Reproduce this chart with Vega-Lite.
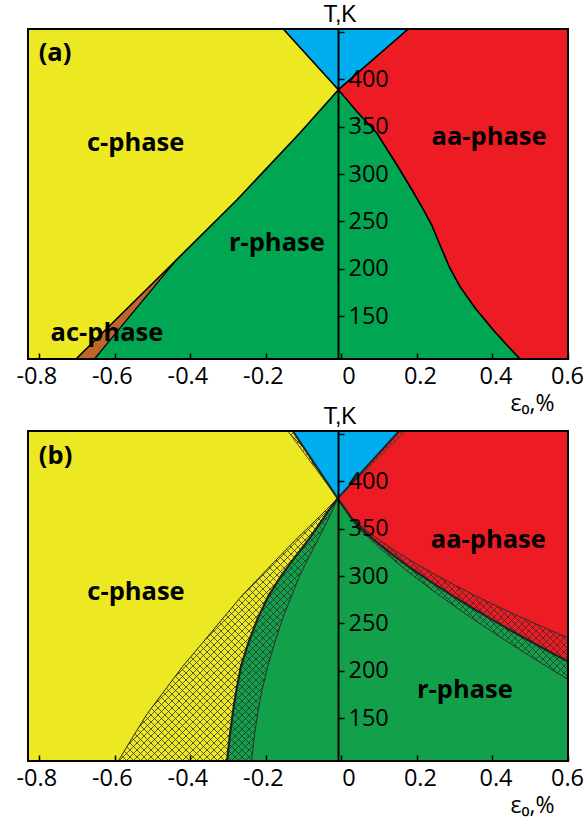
{
  "$schema": "https://vega.github.io/schema/vega-lite/v6.json",
  "padding": {"left": 16, "top": 3, "right": 0, "bottom": 4},
  "spacing": 72,
  "bounds": "flush",
  "config": {"font": "Open Sans", "view": {"stroke": null}},
  "datasets": {
    "a_yellow": [
      {"T": 105, "x": -0.703}, {"T": 206, "x": -0.446}, {"T": 272.7, "x": -0.277},
      {"T": 343.3, "x": -0.11}, {"T": 389, "x": -0.008}, {"T": 453, "x": -0.154}
    ],
    "a_brown": [
      {"T": 105, "xl": -0.703, "xr": -0.654}, {"T": 210, "xl": -0.436, "xr": -0.436}
    ],
    "a_red": [
      {"T": 105, "x": 0.473}, {"T": 119.8, "x": 0.438}, {"T": 135.6, "x": 0.402},
      {"T": 158.8, "x": 0.354}, {"T": 181.3, "x": 0.314}, {"T": 201, "x": 0.287},
      {"T": 225.2, "x": 0.261}, {"T": 246.3, "x": 0.239}, {"T": 262.1, "x": 0.218},
      {"T": 283.2, "x": 0.187}, {"T": 309.6, "x": 0.147}, {"T": 343, "x": 0.094},
      {"T": 365.5, "x": 0.042}, {"T": 389, "x": -0.008}, {"T": 453, "x": 0.177}
    ],
    "a_blue": [
      {"T": 389, "xl": -0.008, "xr": -0.008}, {"T": 453, "xl": -0.154, "xr": 0.177}
    ],
    "a_labels": [
      {"label": "(a)", "x": -0.7585, "T": 428},
      {"label": "c-phase", "x": -0.545, "T": 333},
      {"label": "aa-phase", "x": 0.391, "T": 339},
      {"label": "r-phase", "x": -0.171, "T": 227},
      {"label": "ac-phase", "x": -0.621, "T": 132}
    ],
    "b_left": [
      {"T": 105, "xo": -0.591, "xm": -0.303, "xr": -0.238},
      {"T": 130, "xo": -0.553, "xm": -0.296, "xr": -0.231},
      {"T": 155, "xo": -0.514, "xm": -0.288, "xr": -0.222},
      {"T": 180, "xo": -0.467, "xm": -0.278, "xr": -0.21},
      {"T": 205, "xo": -0.42, "xm": -0.266, "xr": -0.195},
      {"T": 230, "xo": -0.367, "xm": -0.246, "xr": -0.176},
      {"T": 255, "xo": -0.315, "xm": -0.222, "xr": -0.156},
      {"T": 280, "xo": -0.262, "xm": -0.192, "xr": -0.131},
      {"T": 300, "xo": -0.214, "xm": -0.16, "xr": -0.111},
      {"T": 320, "xo": -0.166, "xm": -0.123, "xr": -0.086},
      {"T": 340, "xo": -0.117, "xm": -0.084, "xr": -0.06},
      {"T": 355, "xo": -0.078, "xm": -0.058, "xr": -0.041},
      {"T": 370, "xo": -0.04, "xm": -0.032, "xr": -0.023},
      {"T": 382, "xo": -0.01, "xm": -0.01, "xr": -0.01}
    ],
    "b_ysolid": [
      {"T": 105, "x": -0.591}, {"T": 130, "x": -0.553}, {"T": 155, "x": -0.514},
      {"T": 180, "x": -0.467}, {"T": 205, "x": -0.42}, {"T": 230, "x": -0.367},
      {"T": 255, "x": -0.315}, {"T": 280, "x": -0.262}, {"T": 300, "x": -0.214},
      {"T": 320, "x": -0.166}, {"T": 340, "x": -0.117}, {"T": 355, "x": -0.078},
      {"T": 370, "x": -0.04}, {"T": 382, "x": -0.01}, {"T": 453, "x": -0.142}
    ],
    "b_right": [
      {"x": -0.01, "tg": 382, "tm": 382, "tt": 382, "top": 382},
      {"x": 0.03, "tg": 357.9, "tm": 359.1, "tt": 360.7, "top": 397.8},
      {"x": 0.06, "tg": 345.1, "tm": 347.3, "tt": 350.2, "top": 409.6},
      {"x": 0.1, "tg": 330.2, "tm": 333.6, "tt": 338.1, "top": 425.4},
      {"x": 0.15, "tg": 313.1, "tm": 318.1, "tt": 324.7, "top": 445.1},
      {"x": 0.17, "tg": 306.8, "tm": 312.4, "tt": 319.8, "top": 453},
      {"x": 0.2, "tg": 297.4, "tm": 303.9, "tt": 312.5, "top": 453},
      {"x": 0.25, "tg": 282.4, "tm": 290.5, "tt": 301.2, "top": 453},
      {"x": 0.3, "tg": 268.1, "tm": 277.8, "tt": 290.5, "top": 453},
      {"x": 0.35, "tg": 254.3, "tm": 265.5, "tt": 280.3, "top": 453},
      {"x": 0.4, "tg": 241, "tm": 253.8, "tt": 270.6, "top": 453},
      {"x": 0.45, "tg": 228.1, "tm": 242.4, "tt": 261.3, "top": 453},
      {"x": 0.5, "tg": 215.4, "tm": 231.3, "tt": 252.2, "top": 453},
      {"x": 0.55, "tg": 203.1, "tm": 220.5, "tt": 243.5, "top": 453},
      {"x": 0.6, "tg": 191, "tm": 210, "tt": 235, "top": 453}
    ],
    "b_blue": [
      {"T": 382, "xl2": -0.01, "xl": -0.01, "xr": -0.01, "xr2": -0.01},
      {"T": 453, "xl2": -0.142, "xl": -0.129, "xr": 0.153, "xr2": 0.17}
    ],
    "b_corner": [{"x": -0.83, "T": 453}],
    "b_labels": [
      {"label": "(b)", "x": -0.757, "T": 427},
      {"label": "c-phase", "x": -0.544, "T": 283.5},
      {"label": "aa-phase", "x": 0.389, "T": 338},
      {"label": "r-phase", "x": 0.327, "T": 180}
    ]
  },
  "vconcat": [
    {
      "width": 540, "height": 330,
      "view": {"fill": "#00A651", "stroke": null},
      "layer": [
        {
          "data": {"name": "a_yellow"},
          "mark": {"type": "area", "orient": "horizontal", "color": "#ECE822", "clip": true},
          "encoding": {
            "y": {"field": "T", "type": "quantitative", "scale": {"domain": [105, 453], "nice": false, "zero": false},
              "axis": {"orient": "right", "offset": -230, "zindex": 2, "values": [150, 200, 250, 300, 350, 400, 450],
                "title": "T,K", "titleAngle": 0, "titleX": 1.5, "titleY": -8, "titleAlign": "center", "titleBaseline": "alphabetic",
                "titleFont": "Liberation Sans", "titleFontSize": 23, "titleFontWeight": "normal", "titleColor": "black",
                "grid": false, "domain": true, "domainColor": "black", "domainWidth": 2,
                "ticks": true, "tickSize": 6, "tickWidth": 1.5, "tickColor": "black", "labelPadding": 4,
                "labelFont": "Open Sans", "labelFontSize": 23.5, "labelColor": "black", "labelAlign": "left", "labelBaseline": "middle",
                "labelFlush": false, "labelOverlap": false, "labelExpr": "datum.value == 450 ? '' : datum.label"}},
            "x": {"field": "x", "type": "quantitative", "scale": {"domain": [-0.83, 0.6], "nice": false, "zero": false},
              "axis": {"zindex": 2, "values": [-0.8, -0.6, -0.4, -0.2, 0, 0.2, 0.4, 0.6], "title": "ε₀,%",
                "titleX": 504, "titleY": 51, "titleAlign": "center", "titleBaseline": "alphabetic",
                "titleFont": "Open Sans", "titleFontSize": 23, "titleFontWeight": "normal", "titleColor": "black",
                "grid": false, "domain": false, "ticks": true, "tickSize": -6, "tickWidth": 1.5, "tickColor": "black",
                "labelPadding": 11, "labelFont": "Open Sans", "labelFontSize": 23.5, "labelColor": "black",
                "labelFlush": false, "labelOverlap": false,
                "labelOffset": {"condition": [{"test": "datum.value == 0", "value": 7}, {"test": "datum.value < 0", "value": -3}, {"test": "datum.value > 0.5", "value": -1}], "value": 3},
                "labelExpr": "datum.value == 0 ? '0' : replace(datum.label, '−', '-')"}},
            "x2": {"datum": -0.83}
          }
        },
        {
          "data": {"name": "a_brown"},
          "mark": {"type": "area", "orient": "horizontal", "color": "#C1662B", "clip": true},
          "encoding": {
            "y": {"field": "T", "type": "quantitative"},
            "x": {"field": "xl", "type": "quantitative"},
            "x2": {"field": "xr"}
          }
        },
        {
          "data": {"name": "a_red"},
          "mark": {"type": "area", "orient": "horizontal", "color": "#ED1C24", "clip": true},
          "encoding": {
            "y": {"field": "T", "type": "quantitative"},
            "x": {"field": "x", "type": "quantitative"},
            "x2": {"datum": 0.6}
          }
        },
        {
          "data": {"name": "a_blue"},
          "mark": {"type": "area", "orient": "horizontal", "color": "#00AEEF", "clip": true},
          "encoding": {
            "y": {"field": "T", "type": "quantitative"},
            "x": {"field": "xl", "type": "quantitative"},
            "x2": {"field": "xr"}
          }
        },
        {
          "data": {"name": "a_yellow"},
          "mark": {"type": "line", "color": "black", "strokeWidth": 1.6, "clip": true},
          "encoding": {
            "y": {"field": "T", "type": "quantitative"},
            "x": {"field": "x", "type": "quantitative"},
            "order": {"field": "T"}
          }
        },
        {
          "data": {"name": "a_red"},
          "mark": {"type": "line", "color": "black", "strokeWidth": 1.6, "clip": true},
          "encoding": {
            "y": {"field": "T", "type": "quantitative"},
            "x": {"field": "x", "type": "quantitative"},
            "order": {"field": "T"}
          }
        },
        {
          "data": {"name": "a_brown"},
          "mark": {"type": "line", "color": "black", "strokeWidth": 1.2, "clip": true},
          "encoding": {
            "y": {"field": "T", "type": "quantitative"},
            "x": {"field": "xr", "type": "quantitative"},
            "order": {"field": "T"}
          }
        },
        {
          "data": {"name": "a_labels"},
          "mark": {"type": "text", "font": "Open Sans", "fontWeight": "bold", "fontSize": 25.5, "color": "black", "align": "center", "baseline": "middle"},
          "encoding": {
            "y": {"field": "T", "type": "quantitative"},
            "x": {"field": "x", "type": "quantitative"},
            "text": {"field": "label"}
          }
        },
        {
          "data": {"name": "a_blue"},
          "mark": {"type": "rect", "fill": null, "fillOpacity": 0, "stroke": "black", "strokeWidth": 2},
          "encoding": {
            "x": {"datum": -0.83, "type": "quantitative"},
            "x2": {"datum": 0.6},
            "y": {"datum": 105, "type": "quantitative"},
            "y2": {"datum": 453}
          }
        }
      ]
    },
    {
      "width": 540, "height": 330,
      "view": {"fill": "#ECE822", "stroke": null},
      "layer": [
        {
          "data": {"name": "b_left"},
          "mark": {"type": "area", "orient": "horizontal", "color": "#ECE822", "clip": true},
          "encoding": {
            "y": {"field": "T", "type": "quantitative", "scale": {"domain": [105, 453], "nice": false, "zero": false},
              "axis": {"orient": "right", "offset": -230, "zindex": 2, "values": [150, 200, 250, 300, 350, 400, 450],
                "title": "T,K", "titleAngle": 0, "titleX": 1.5, "titleY": -8, "titleAlign": "center", "titleBaseline": "alphabetic",
                "titleFont": "Liberation Sans", "titleFontSize": 23, "titleFontWeight": "normal", "titleColor": "black",
                "grid": false, "domain": true, "domainColor": "black", "domainWidth": 2,
                "ticks": true, "tickSize": 6, "tickWidth": 1.5, "tickColor": "black", "labelPadding": 4,
                "labelFont": "Open Sans", "labelFontSize": 23.5, "labelColor": "black", "labelAlign": "left", "labelBaseline": "middle",
                "labelFlush": false, "labelOverlap": false, "labelExpr": "datum.value == 450 ? '' : datum.label"}},
            "x": {"field": "xo", "type": "quantitative", "scale": {"domain": [-0.83, 0.6], "nice": false, "zero": false},
              "axis": {"zindex": 2, "values": [-0.8, -0.6, -0.4, -0.2, 0, 0.2, 0.4, 0.6], "title": "ε₀,%",
                "titleX": 504, "titleY": 51, "titleAlign": "center", "titleBaseline": "alphabetic",
                "titleFont": "Open Sans", "titleFontSize": 23, "titleFontWeight": "normal", "titleColor": "black",
                "grid": false, "domain": false, "ticks": true, "tickSize": -6, "tickWidth": 1.5, "tickColor": "black",
                "labelPadding": 11, "labelFont": "Open Sans", "labelFontSize": 23.5, "labelColor": "black",
                "labelFlush": false, "labelOverlap": false,
                "labelOffset": {"condition": [{"test": "datum.value == 0", "value": 7}, {"test": "datum.value < 0", "value": -3}, {"test": "datum.value > 0.5", "value": -1}], "value": 3},
                "labelExpr": "datum.value == 0 ? '0' : replace(datum.label, '−', '-')"}},
            "x2": {"field": "xm"}
          }
        },
        {
          "data": {"name": "b_left"},
          "mark": {"type": "area", "orient": "horizontal", "color": "#12A04A", "clip": true},
          "encoding": {
            "y": {"field": "T", "type": "quantitative"},
            "x": {"field": "xm", "type": "quantitative"},
            "x2": {"field": "xr"}
          }
        },
        {
          "data": {"name": "b_right"},
          "mark": {"type": "area", "orient": "vertical", "color": "#12A04A", "clip": true},
          "encoding": {
            "x": {"field": "x", "type": "quantitative"},
            "y": {"field": "tg", "type": "quantitative"},
            "y2": {"field": "tm"}
          }
        },
        {
          "data": {"name": "b_right"},
          "mark": {"type": "area", "orient": "vertical", "color": "#ED1C24", "clip": true},
          "encoding": {
            "x": {"field": "x", "type": "quantitative"},
            "y": {"field": "tm", "type": "quantitative"},
            "y2": {"field": "tt"}
          }
        },
        {
          "data": {"name": "b_blue"},
          "mark": {"type": "area", "orient": "horizontal", "color": "#ED1C24", "clip": true},
          "encoding": {
            "y": {"field": "T", "type": "quantitative"},
            "x": {"field": "xr", "type": "quantitative"},
            "x2": {"field": "xr2"}
          }
        },
        {
          "data": {"name": "b_corner"},
          "mark": {"type": "point", "filled": false, "size": 4, "stroke": "#2b2b2b", "strokeWidth": 0.75, "opacity": 1, "clip": true,
            "shape": "M-245 0l330 330m-323 -330l330 330m-323 -330l330 330m-323 -330l330 330m-323 -330l330 330m-323 -330l330 330m-323 -330l330 330m-323 -330l330 330m-323 -330l330 330m-323 -330l330 330m-323 -330l330 330m-323 -330l330 330m-323 -330l330 330m-323 -330l330 330m-323 -330l330 330m-323 -330l330 330m-323 -330l330 330m-323 -330l330 330m-323 -330l330 330m-323 -330l330 330m-323 -330l330 330m-323 -330l330 330m-323 -330l330 330m-323 -330l330 330m-323 -330l330 330m-323 -330l330 330m-323 -330l330 330m-323 -330l330 330m-323 -330l330 330m-323 -330l330 330m-323 -330l330 330m-323 -330l330 330m-323 -330l330 330m-323 -330l330 330m-323 -330l330 330m-323 -330l330 330m-323 -330l330 330m-323 -330l330 330m-323 -330l330 330m-323 -330l330 330m-323 -330l330 330m-323 -330l330 330m-323 -330l330 330m-323 -330l330 330m-323 -330l330 330m-323 -330l330 330m-323 -330l330 330m-323 -330l330 330m-323 -330l330 330m-323 -330l330 330m-323 -330l330 330m-323 -330l330 330m-323 -330l330 330m-323 -330l330 330m-323 -330l330 330m-323 -330l330 330m-323 -330l330 330m-323 -330l330 330m-323 -330l330 330m-323 -330l330 330m-323 -330l330 330m-323 -330l330 330m-323 -330l330 330m-323 -330l330 330m-323 -330l330 330m-323 -330l330 330m-323 -330l330 330m-323 -330l330 330m-323 -330l330 330m-323 -330l330 330m-323 -330l330 330m-323 -330l330 330m-323 -330l330 330m-323 -330l330 330m-323 -330l330 330m-323 -330l330 330m-323 -330l330 330m-323 -330l330 330m-323 -330l330 330m-323 -330l330 330m-323 -330l330 330m-323 -330l330 330m-323 -330l330 330m-323 -330l330 330m-323 -330l330 330m-323 -330l330 330m-323 -330l330 330m-323 -330l330 330m-323 -330l330 330m-323 -330l330 330m-323 -330l330 330m-323 -330l330 330m-323 -330l330 330m-323 -330l330 330m-323 -330l330 330m-323 -330l330 330m-323 -330l330 330m-323 -330l330 330m-323 -330l330 330m-323 -330l330 330m-323 -330l330 330m-323 -330l330 330m-323 -330l330 330m-323 -330l330 330m-323 -330l330 330m-323 -330l330 330m-323 -330l330 330m-323 -330l330 330m-323 -330l330 330m-323 -330l330 330m-323 -330l330 330m-323 -330l330 330m-323 -330l330 330m-323 -330l330 330m-323 -330l330 330m-323 -330l330 330m-323 -330l330 330m-323 -330l330 330m-323 -330l330 330m-323 -330l330 330m-323 -330l330 330m-323 -330l330 330m-323 -330l330 330M85 0l-330 330m337 -330l-330 330m337 -330l-330 330m337 -330l-330 330m337 -330l-330 330m337 -330l-330 330m337 -330l-330 330m337 -330l-330 330m337 -330l-330 330m337 -330l-330 330m337 -330l-330 330m337 -330l-330 330m337 -330l-330 330m337 -330l-330 330m337 -330l-330 330m337 -330l-330 330m337 -330l-330 330m337 -330l-330 330m337 -330l-330 330m337 -330l-330 330m337 -330l-330 330m337 -330l-330 330m337 -330l-330 330m337 -330l-330 330m337 -330l-330 330m337 -330l-330 330m337 -330l-330 330m337 -330l-330 330m337 -330l-330 330m337 -330l-330 330m337 -330l-330 330m337 -330l-330 330m337 -330l-330 330m337 -330l-330 330m337 -330l-330 330m337 -330l-330 330m337 -330l-330 330m337 -330l-330 330m337 -330l-330 330m337 -330l-330 330m337 -330l-330 330m337 -330l-330 330m337 -330l-330 330m337 -330l-330 330m337 -330l-330 330m337 -330l-330 330m337 -330l-330 330m337 -330l-330 330m337 -330l-330 330m337 -330l-330 330m337 -330l-330 330m337 -330l-330 330m337 -330l-330 330m337 -330l-330 330m337 -330l-330 330m337 -330l-330 330m337 -330l-330 330m337 -330l-330 330m337 -330l-330 330m337 -330l-330 330m337 -330l-330 330m337 -330l-330 330m337 -330l-330 330m337 -330l-330 330m337 -330l-330 330m337 -330l-330 330m337 -330l-330 330m337 -330l-330 330m337 -330l-330 330m337 -330l-330 330m337 -330l-330 330m337 -330l-330 330m337 -330l-330 330m337 -330l-330 330m337 -330l-330 330m337 -330l-330 330m337 -330l-330 330m337 -330l-330 330m337 -330l-330 330m337 -330l-330 330m337 -330l-330 330m337 -330l-330 330m337 -330l-330 330m337 -330l-330 330m337 -330l-330 330m337 -330l-330 330m337 -330l-330 330m337 -330l-330 330m337 -330l-330 330m337 -330l-330 330m337 -330l-330 330m337 -330l-330 330m337 -330l-330 330m337 -330l-330 330m337 -330l-330 330m337 -330l-330 330m337 -330l-330 330m337 -330l-330 330m337 -330l-330 330m337 -330l-330 330m337 -330l-330 330m337 -330l-330 330m337 -330l-330 330m337 -330l-330 330m337 -330l-330 330m337 -330l-330 330m337 -330l-330 330m337 -330l-330 330m337 -330l-330 330m337 -330l-330 330m337 -330l-330 330m337 -330l-330 330m337 -330l-330 330m337 -330l-330 330m337 -330l-330 330m337 -330l-330 330m337 -330l-330 330m337 -330l-330 330m337 -330l-330 330m337 -330l-330 330m337 -330l-330 330m337 -330l-330 330m337 -330l-330 330m337 -330l-330 330m337 -330l-330 330m337 -330l-330 330m337 -330l-330 330m337 -330l-330 330m337 -330l-330 330m337 -330l-330 330m337 -330l-330 330m337 -330l-330 330m337 -330l-330 330m337 -330l-330 330m337 -330l-330 330m337 -330l-330 330"},
          "encoding": {
            "x": {"field": "x", "type": "quantitative"},
            "y": {"field": "T", "type": "quantitative"}
          }
        },
        {
          "data": {"name": "b_ysolid"},
          "mark": {"type": "area", "orient": "horizontal", "color": "#ECE822", "clip": true},
          "encoding": {
            "y": {"field": "T", "type": "quantitative"},
            "x": {"field": "x", "type": "quantitative"},
            "x2": {"datum": -0.83}
          }
        },
        {
          "data": {"name": "b_left"},
          "mark": {"type": "area", "orient": "horizontal", "color": "#12A04A", "clip": true},
          "encoding": {
            "y": {"field": "T", "type": "quantitative"},
            "x": {"field": "xr", "type": "quantitative"},
            "x2": {"datum": -0.01}
          }
        },
        {
          "data": {"name": "b_right"},
          "mark": {"type": "area", "orient": "vertical", "color": "#12A04A", "clip": true},
          "encoding": {
            "x": {"field": "x", "type": "quantitative"},
            "y": {"field": "tg", "type": "quantitative"},
            "y2": {"datum": 105}
          }
        },
        {
          "data": {"name": "b_right"},
          "mark": {"type": "area", "orient": "vertical", "color": "#ED1C24", "clip": true},
          "encoding": {
            "x": {"field": "x", "type": "quantitative"},
            "y": {"field": "tt", "type": "quantitative"},
            "y2": {"field": "top"}
          }
        },
        {
          "data": {"name": "b_blue"},
          "mark": {"type": "area", "orient": "horizontal", "color": "#00AEEF", "clip": true},
          "encoding": {
            "y": {"field": "T", "type": "quantitative"},
            "x": {"field": "xl", "type": "quantitative"},
            "x2": {"field": "xr"}
          }
        },
        {
          "data": {"name": "b_left"},
          "mark": {"type": "line", "color": "#2a2a2a", "strokeWidth": 1, "clip": true},
          "encoding": {
            "y": {"field": "T", "type": "quantitative"},
            "x": {"field": "xo", "type": "quantitative"},
            "order": {"field": "T"}
          }
        },
        {
          "data": {"name": "b_left"},
          "mark": {"type": "line", "color": "#2a2a2a", "strokeWidth": 1, "clip": true},
          "encoding": {
            "y": {"field": "T", "type": "quantitative"},
            "x": {"field": "xr", "type": "quantitative"},
            "order": {"field": "T"}
          }
        },
        {
          "data": {"name": "b_left"},
          "mark": {"type": "line", "color": "#222222", "strokeWidth": 2.2, "clip": true},
          "encoding": {
            "y": {"field": "T", "type": "quantitative"},
            "x": {"field": "xm", "type": "quantitative"},
            "order": {"field": "T"}
          }
        },
        {
          "data": {"name": "b_right"},
          "mark": {"type": "line", "color": "#2a2a2a", "strokeWidth": 1, "clip": true},
          "encoding": {
            "x": {"field": "x", "type": "quantitative"},
            "y": {"field": "tg", "type": "quantitative"},
            "order": {"field": "x"}
          }
        },
        {
          "data": {"name": "b_right"},
          "mark": {"type": "line", "color": "#2a2a2a", "strokeWidth": 1, "clip": true},
          "encoding": {
            "x": {"field": "x", "type": "quantitative"},
            "y": {"field": "tt", "type": "quantitative"},
            "order": {"field": "x"}
          }
        },
        {
          "data": {"name": "b_right"},
          "mark": {"type": "line", "color": "#222222", "strokeWidth": 2.2, "clip": true},
          "encoding": {
            "x": {"field": "x", "type": "quantitative"},
            "y": {"field": "tm", "type": "quantitative"},
            "order": {"field": "x"}
          }
        },
        {
          "data": {"name": "b_blue"},
          "mark": {"type": "line", "color": "#222222", "strokeWidth": 2, "clip": true},
          "encoding": {
            "y": {"field": "T", "type": "quantitative"},
            "x": {"field": "xl", "type": "quantitative"},
            "order": {"field": "T"}
          }
        },
        {
          "data": {"name": "b_blue"},
          "mark": {"type": "line", "color": "#222222", "strokeWidth": 2, "clip": true},
          "encoding": {
            "y": {"field": "T", "type": "quantitative"},
            "x": {"field": "xr", "type": "quantitative"},
            "order": {"field": "T"}
          }
        },
        {
          "data": {"name": "b_blue"},
          "mark": {"type": "line", "color": "#2a2a2a", "strokeWidth": 0.8, "clip": true},
          "encoding": {
            "y": {"field": "T", "type": "quantitative"},
            "x": {"field": "xl2", "type": "quantitative"},
            "order": {"field": "T"}
          }
        },
        {
          "data": {"name": "b_blue"},
          "mark": {"type": "line", "color": "#2a2a2a", "strokeWidth": 0.8, "clip": true},
          "encoding": {
            "y": {"field": "T", "type": "quantitative"},
            "x": {"field": "xr2", "type": "quantitative"},
            "order": {"field": "T"}
          }
        },
        {
          "data": {"name": "b_labels"},
          "mark": {"type": "text", "font": "Open Sans", "fontWeight": "bold", "fontSize": 25.5, "color": "black", "align": "center", "baseline": "middle"},
          "encoding": {
            "y": {"field": "T", "type": "quantitative"},
            "x": {"field": "x", "type": "quantitative"},
            "text": {"field": "label"}
          }
        },
        {
          "data": {"name": "b_corner"},
          "mark": {"type": "rect", "fill": null, "fillOpacity": 0, "stroke": "black", "strokeWidth": 2},
          "encoding": {
            "x": {"datum": -0.83, "type": "quantitative"},
            "x2": {"datum": 0.6},
            "y": {"datum": 105, "type": "quantitative"},
            "y2": {"datum": 453}
          }
        }
      ]
    }
  ]
}
